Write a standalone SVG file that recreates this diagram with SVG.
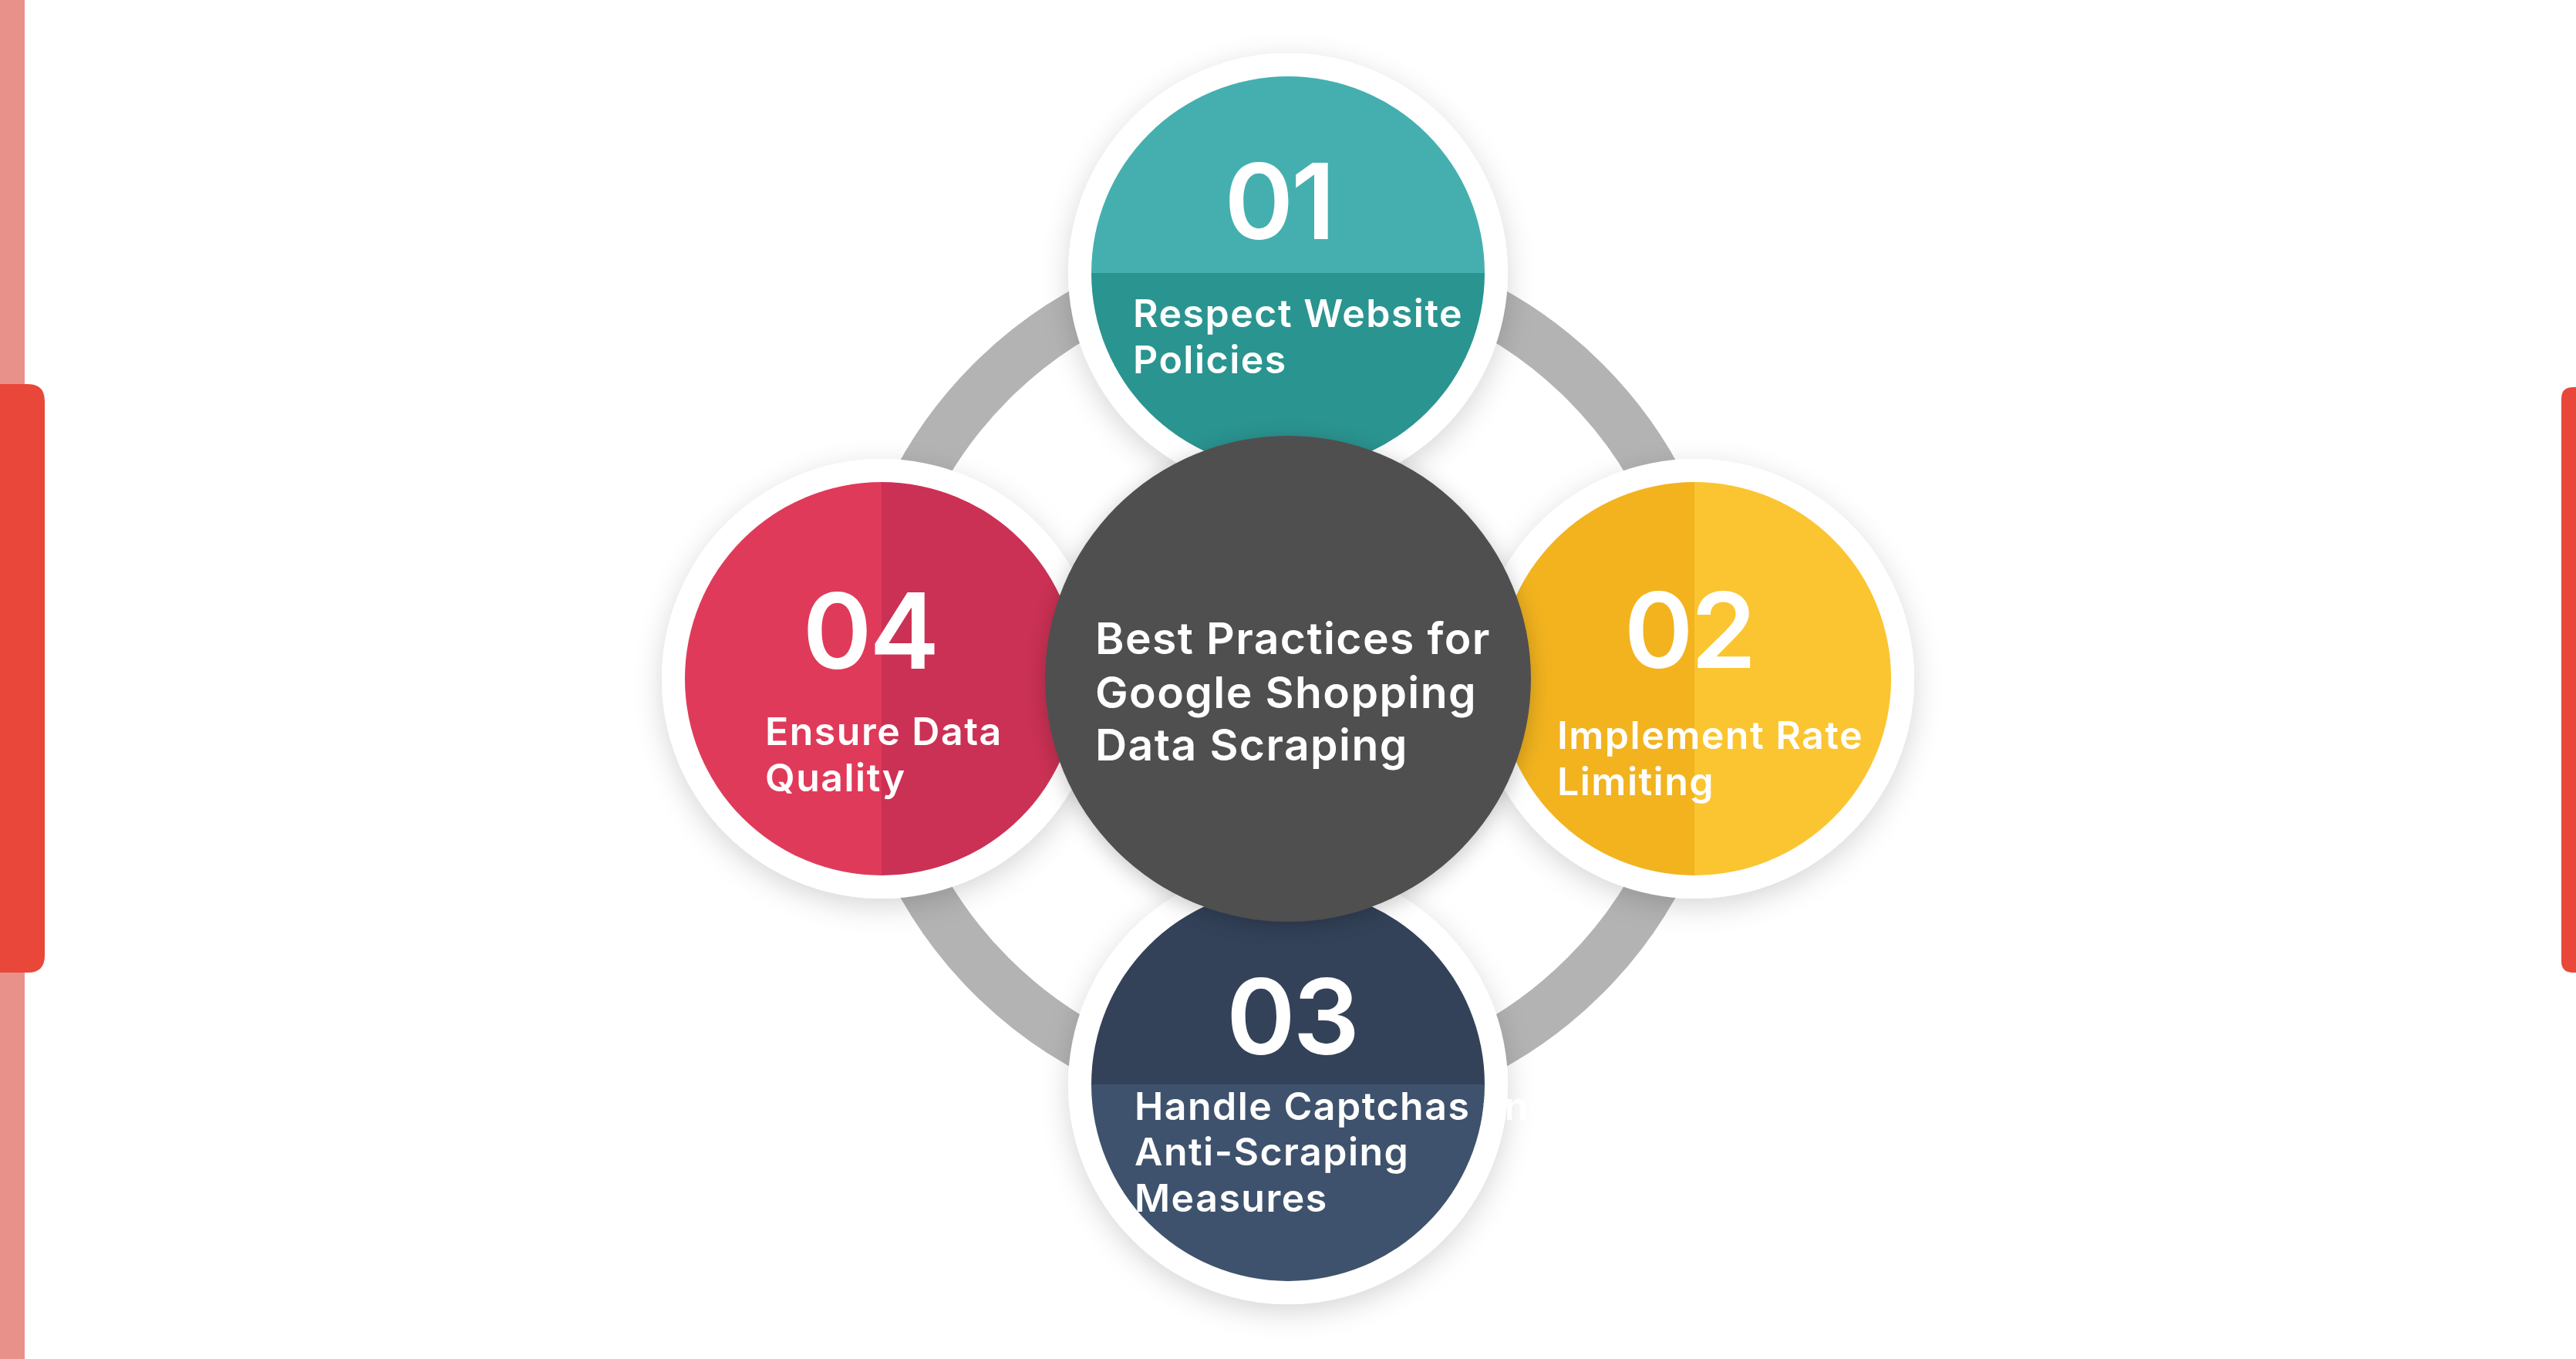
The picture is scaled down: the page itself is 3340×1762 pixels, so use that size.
<svg xmlns="http://www.w3.org/2000/svg" width="3340" height="1762" viewBox="0 0 3340 1762">
<defs>
<style>
.num{font-family:Inter,"Open Sans","Liberation Sans",sans-serif;font-weight:600;font-size:136px;fill:#fff;text-anchor:middle;letter-spacing:-3px}
.lbl{font-family:Inter,"Open Sans","Liberation Sans",sans-serif;font-weight:600;font-size:50px;fill:#fff;letter-spacing:1.5px}
.ttl{font-family:Inter,"Open Sans","Liberation Sans",sans-serif;font-weight:600;font-size:57px;fill:#fff;letter-spacing:1.4px}
.ring{fill:#fff;filter:url(#sh)}
</style>
<filter id="sh" x="-30%" y="-30%" width="160%" height="160%">
<feDropShadow dx="0" dy="10" stdDeviation="18" flood-color="#000" flood-opacity="0.16"/>
</filter>
<filter id="shc" x="-30%" y="-30%" width="160%" height="160%">
<feDropShadow dx="0" dy="6" stdDeviation="14" flood-color="#000" flood-opacity="0.22"/>
</filter>
</defs>
<rect width="3340" height="1762" fill="#fff"/>
<g id="decor">
<rect x="0" y="0" width="32" height="1762" fill="#E8918B"/>
<path d="M0 498 H36 Q58 498 58 520 V1239 Q58 1261 36 1261 H0 Z" fill="#E8473A"/>
<path d="M3340 502 V1261 H3336 Q3321 1261 3321 1246 V517 Q3321 502 3336 502 Z" fill="#E8473A"/>
</g>
<g id="connectors">
<circle cx="1670" cy="880" r="544.5" fill="none" stroke="#B3B3B3" stroke-width="65"/>
</g>
<g id="node-01">
<circle class="ring" cx="1670" cy="354" r="285"/>
<path d="M1415 354 A255 255 0 0 1 1925 354 Z" fill="#45AFAF"/>
<path d="M1415 354 A255 255 0 0 0 1925 354 Z" fill="#2A9490"/>
<text class="num" x="1658" y="310">01</text>
<text class="lbl" x="1469" y="424">Respect Website</text>
<text class="lbl" x="1469" y="484">Policies</text>
</g>
<g id="node-02">
<circle class="ring" cx="2197" cy="880" r="285"/>
<path d="M2197 625 A255 255 0 0 0 2197 1135 Z" fill="#F2B31E"/>
<path d="M2197 625 A255 255 0 0 1 2197 1135 Z" fill="#FBC531"/>
<text class="num" x="2190" y="866">02</text>
<text class="lbl" x="2019" y="971">Implement Rate</text>
<text class="lbl" x="2019" y="1031">Limiting</text>
</g>
<g id="node-03">
<circle class="ring" cx="1670" cy="1406" r="285"/>
<path d="M1415 1406 A255 255 0 0 1 1925 1406 Z" fill="#334259"/>
<path d="M1415 1406 A255 255 0 0 0 1925 1406 Z" fill="#3E526D"/>
<text class="num" x="1675" y="1367">03</text>
<text class="lbl" x="1471" y="1452">Handle Captchas and</text>
<text class="lbl" x="1471" y="1511">Anti-Scraping</text>
<text class="lbl" x="1471" y="1571">Measures</text>
</g>
<g id="node-04">
<circle class="ring" cx="1143" cy="880" r="285"/>
<path d="M1143 625 A255 255 0 0 0 1143 1135 Z" fill="#E03A5A"/>
<path d="M1143 625 A255 255 0 0 1 1143 1135 Z" fill="#CB3154"/>
<text class="num" x="1128" y="867">04</text>
<text class="lbl" x="992" y="966">Ensure Data</text>
<text class="lbl" x="992" y="1026">Quality</text>
</g>
<g id="node-center">
<circle cx="1670" cy="880" r="315" fill="#4F4F4F" filter="url(#shc)"/>
<text class="ttl" x="1420" y="848">Best Practices for</text>
<text class="ttl" x="1420" y="918">Google Shopping</text>
<text class="ttl" x="1420" y="986">Data Scraping</text>
</g>
</svg>
